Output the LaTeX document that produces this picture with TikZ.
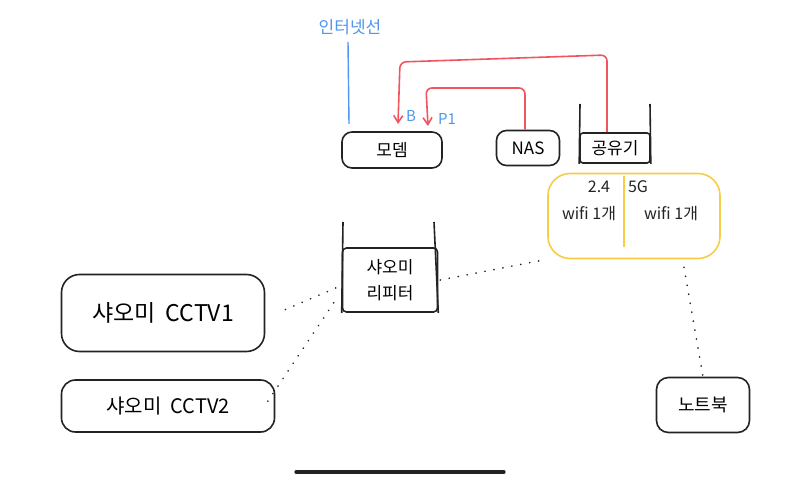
\documentclass[tikz,border=0pt]{standalone}
\usepackage{fontspec}
\setmainfont{Noto Sans CJK KR}
\usetikzlibrary{arrows.meta}
\definecolor{penblue}{RGB}{80,150,235}
\definecolor{penred}{RGB}{240,85,95}
\definecolor{penyellow}{RGB}{245,205,70}
\definecolor{penblack}{RGB}{35,35,35}
\begin{document}
\begin{tikzpicture}[x=1pt,y=-1pt,
  box/.style={draw=penblack, line width=1.6pt, rounded corners=10pt, inner sep=0pt, font=\fontsize{17}{19}\selectfont},
  side/.style={draw=penblack, line width=1.6pt},
  redline/.style={draw=penred, line width=1.6pt, rounded corners=6pt, -{Straight Barb[length=7pt,width=9pt]}},
  dots/.style={draw=penblack, line width=1.8pt, line cap=round, dash pattern=on 0.1pt off 9pt},
  bluetxt/.style={text=penblue, font=\fontsize{15}{17}\selectfont, inner sep=1pt},
  wtxt/.style={text=penblack, font=\fontsize{16}{18}\selectfont}]
\useasboundingbox (0,0) rectangle (800,481);

% internet line
\node[bluetxt, font=\fontsize{17}{19}\selectfont] (inet) at (350,27) {인터넷선};
\coordinate (inetend) at (349,124);
\draw[penblue, line width=1.4pt] (inet.south) ++(-2,6) -- (inetend);

% modem, NAS, router
\node[box, minimum width=100pt, minimum height=36pt] (modem) at (392,150) {모뎀};
\node[box, minimum width=63pt, minimum height=35pt] (nas) at (528,148) {NAS};
\node[box, minimum width=70pt, minimum height=30pt, rounded corners=3pt] (router) at (615,148) {공유기};
\coordinate (rtl) at (580,104);
\coordinate (rtr) at (650,104);
\draw[side] (rtl) -- (router.south west);
\draw[side] (rtr) -- (router.south east);

% red arrows
\coordinate (bport) at (398,124);
\coordinate (pport) at (428,126);
\draw[redline] (router.north) ++(-8,0) -- (607,55) -- (400,62) -- (bport);
\draw[redline] (nas.north) ++(-3,0) -- (525,88) -- (426,88) -- (pport);
\node[bluetxt] (blab) at (411,116) {B};
\node[bluetxt] (plab) at (447,119) {P1};

% wifi bubble
\node[draw=penyellow, line width=1.6pt, rounded corners=22pt, minimum width=172pt, minimum height=85pt] (wifi) at (634,216) {};
\coordinate (divtop) at (624,176);
\coordinate (divbot) at (624,247);
\draw[penyellow, line width=1.6pt] (divtop) -- (divbot);
\node[wtxt] (w24) at (599,187) {2.4};
\node[wtxt] (w5g) at (638,187) {5G};
\node[wtxt] (w24b) at (589,214) {wifi 1개};
\node[wtxt] (w5gb) at (671,214) {wifi 1개};

% repeater
\node[box, minimum width=95pt, minimum height=64pt, rounded corners=4pt, align=center, font=\fontsize{17}{26}\selectfont] (rep) at (390,280) {샤오미\\리피터};
\coordinate (reptl) at (343,222);
\coordinate (reptr) at (434,222);
\draw[side] (reptl) -- (rep.south west);
\draw[side] (reptr) -- (rep.south east);

% cameras and notebook
\node[box, minimum width=203pt, minimum height=77pt, rounded corners=18pt, font=\fontsize{23}{25}\selectfont] (cctv1) at (163,313) {샤오미\ \ CCTV1};
\node[box, minimum width=213pt, minimum height=52pt, rounded corners=14pt, font=\fontsize{20}{22}\selectfont] (cctv2) at (168,406) {샤오미\ \ CCTV2};
\node[box, minimum width=93pt, minimum height=55pt, rounded corners=12pt, font=\fontsize{18}{20}\selectfont] (note) at (703,405) {노트북};

% wireless (dotted) links
\draw[dots] (rep.east) ++(2,0) -- (wifi.south west);
\draw[dots] (rep.west) ++(-6,8) -- ([xshift=12pt]cctv1.east);
\draw[dots] (rep.south west) ++(-8,-10) -- ([xshift=-8pt,yshift=4pt]cctv2.east);
\draw[dots] (wifi.south) ++(50,8) -- (note.north);

% home indicator bar
\draw[penblack, line width=3.2pt, line cap=round] (296,472) -- (504,472);
\end{tikzpicture}
\end{document}
